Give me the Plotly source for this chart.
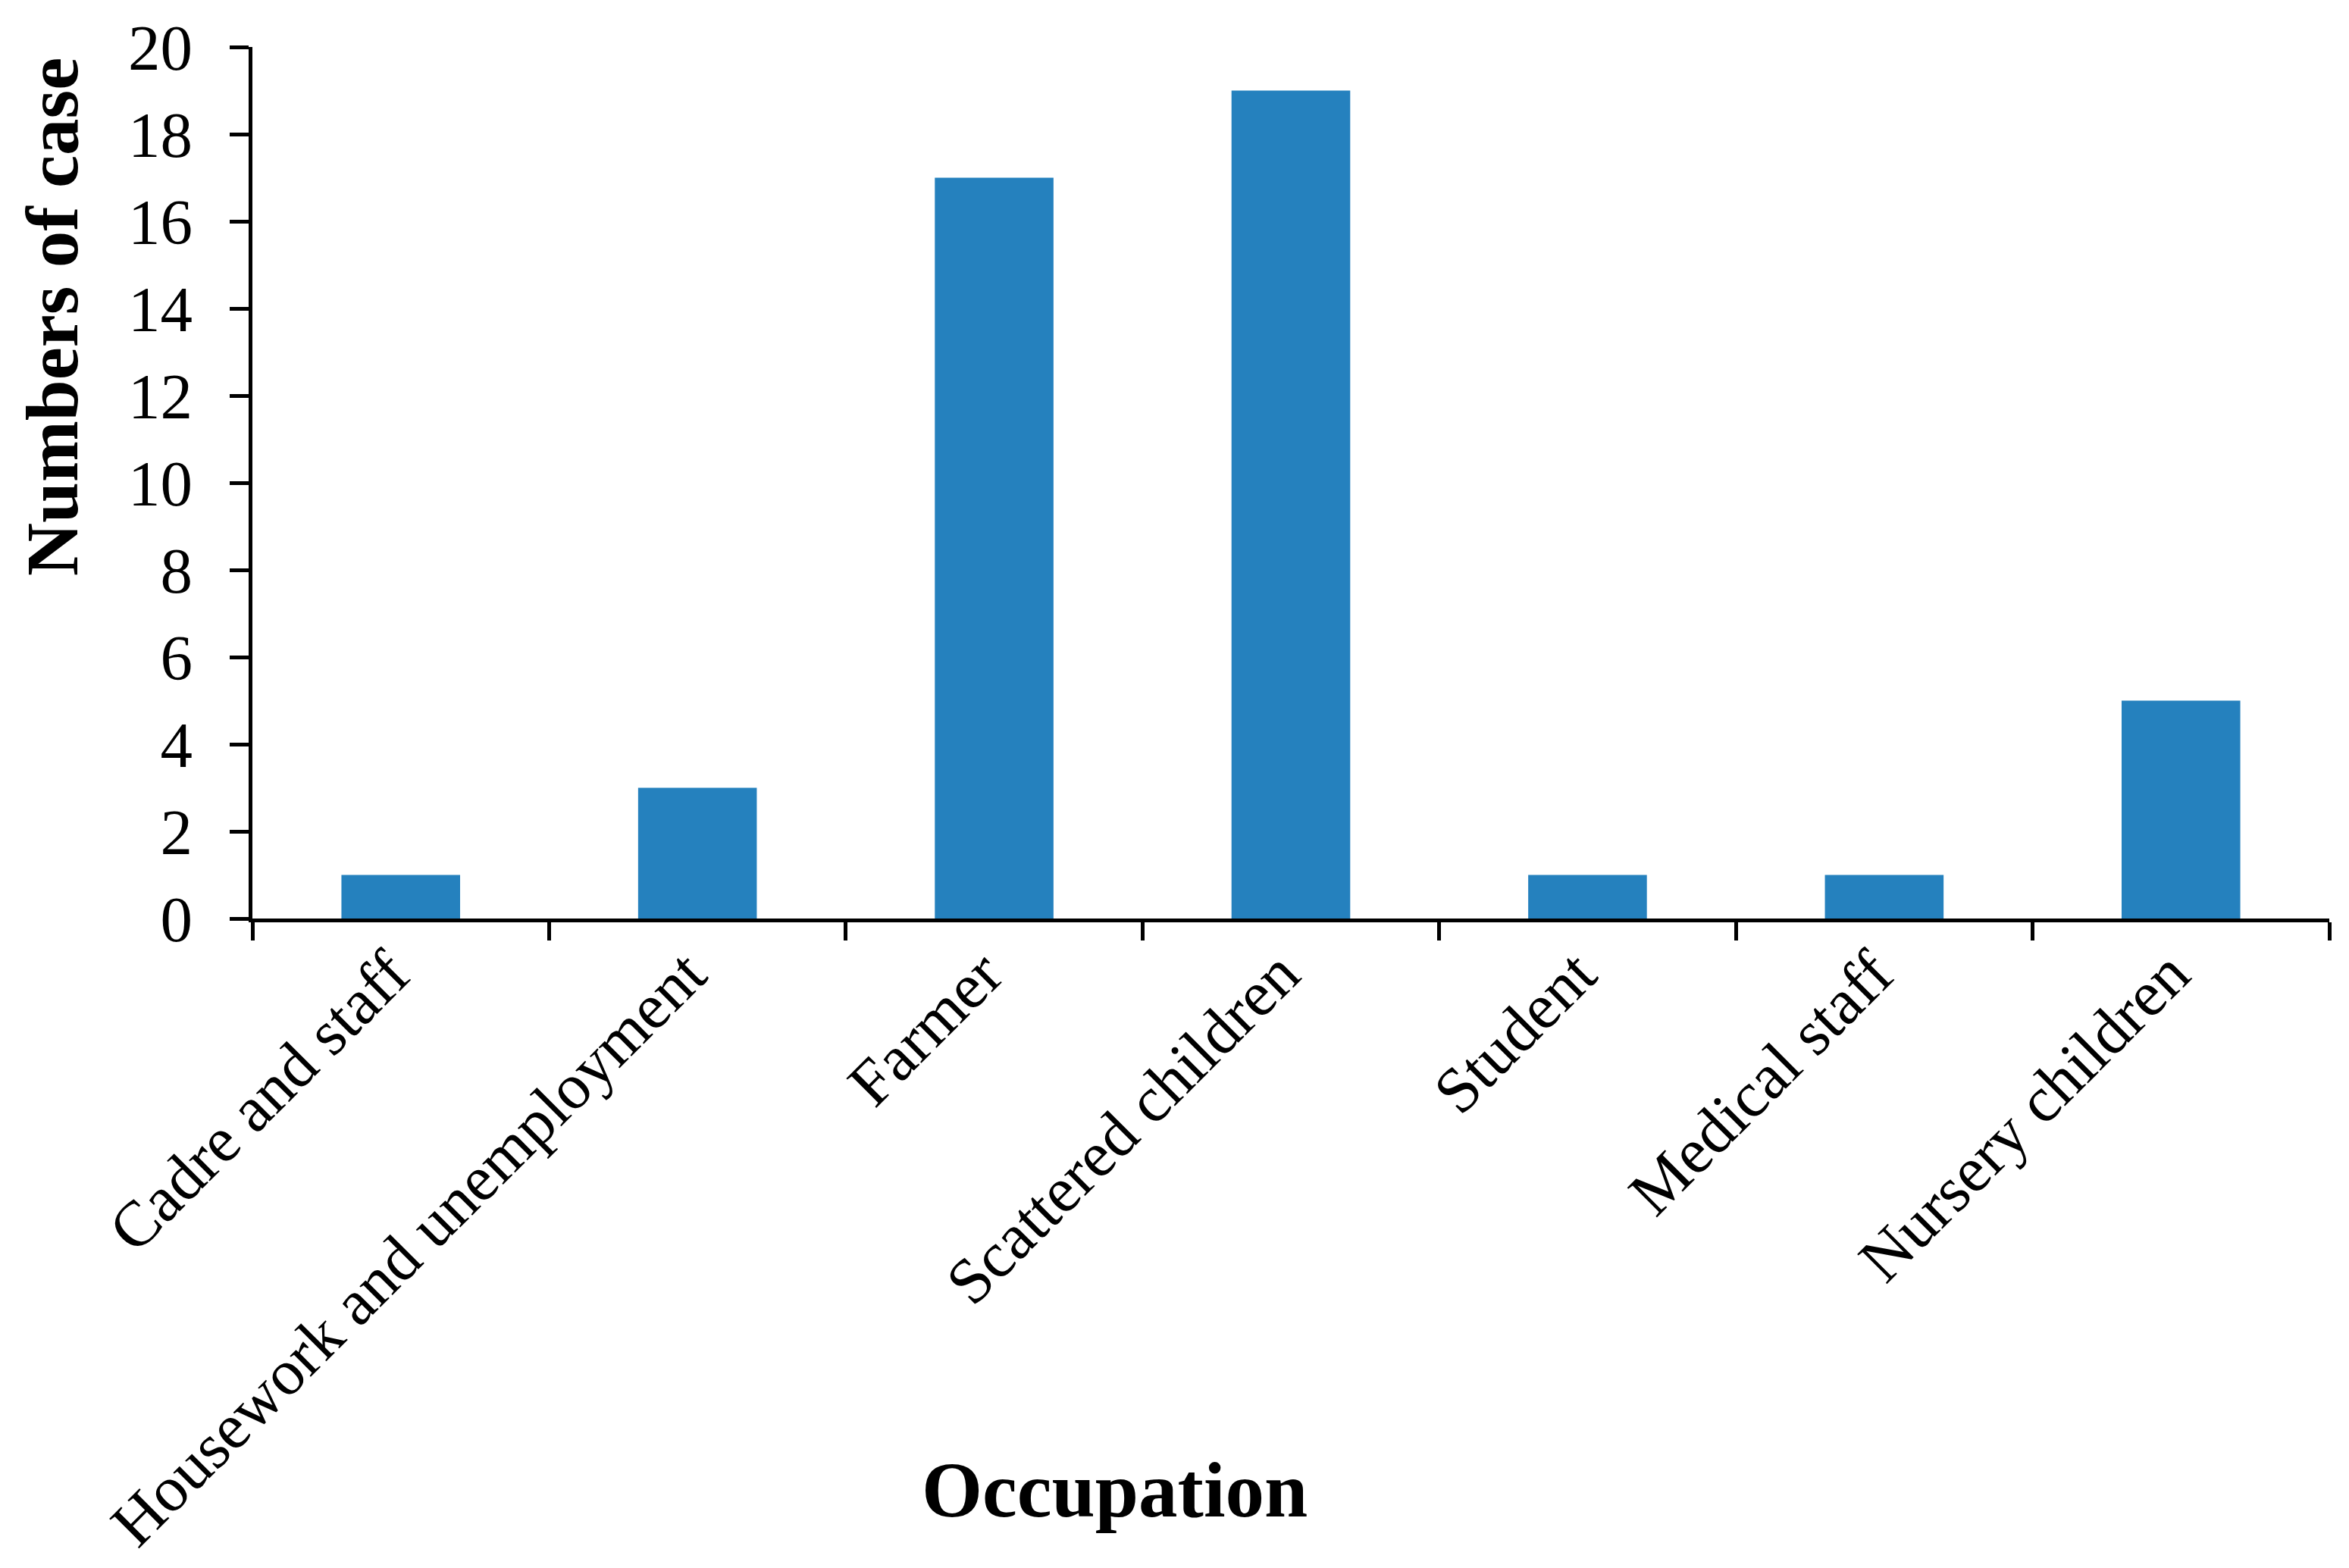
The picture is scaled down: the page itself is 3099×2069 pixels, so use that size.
import plotly.graph_objects as go

categories = ["Cadre and staff", "Housework and unemployment", "Farmer",
              "Scattered children", "Student", "Medical staff", "Nursery children"]
cases = [1, 3, 17, 19, 1, 1, 5]
y_ticks = [0, 2, 4, 6, 8, 10, 12, 14, 16, 18, 20]

W, H = 3099, 2069
OFF = 8  # default page body margin
L, R, T, B = 333 - OFF, 26 + OFF, 62 - OFF, 857 + OFF
PW, PH = W - L - R, H - T - B
FONT = "Liberation Serif"

fig = go.Figure(go.Bar(x=categories, y=cases, marker=dict(color="#2581BE", line=dict(width=0))))

fig.update_layout(
    width=W, height=H,
    margin=dict(l=L, r=R, t=T, b=B, autoexpand=False),
    paper_bgcolor="white", plot_bgcolor="white",
    bargap=0.6, showlegend=False,
    font=dict(family=FONT, size=85, color="black"),
)
fig.update_xaxes(
    type="category", range=[-0.5, 6.5],
    showline=True, linecolor="black", linewidth=5,
    ticks="outside", ticklen=24, tickwidth=5, tickcolor="black",
    tickson="boundaries", tickangle=-45,
    tickfont=dict(family=FONT, size=85, color="black"),
    ticklabelshift=-14, ticklabelstandoff=-16,
    showgrid=False, zeroline=False,
)
fig.update_yaxes(
    range=[0, 20], tickvals=y_ticks,
    showline=True, linecolor="black", linewidth=5,
    ticks="outside", ticklen=25, tickwidth=5, tickcolor="black",
    tickfont=dict(family=FONT, size=85, color="black"),
    ticklabelstandoff=32,
    showgrid=False, zeroline=False,
)
fig.add_annotation(text="<b>Numbers of case</b>", xref="paper", yref="paper",
                   x=(69 - 333) / PW, y=1 - (418 - 62) / PH,
                   textangle=-90, showarrow=False,
                   font=dict(family=FONT, size=97, color="black"),
                   xanchor="center", yanchor="middle")
fig.add_annotation(text="<b>Occupation</b>", xref="paper", yref="paper",
                   x=(1470 - 333) / PW, y=-(1966 - 1212) / PH,
                   showarrow=False,
                   font=dict(family=FONT, size=103, color="black"),
                   xanchor="center", yanchor="middle")

fig.write_html("out.html")
